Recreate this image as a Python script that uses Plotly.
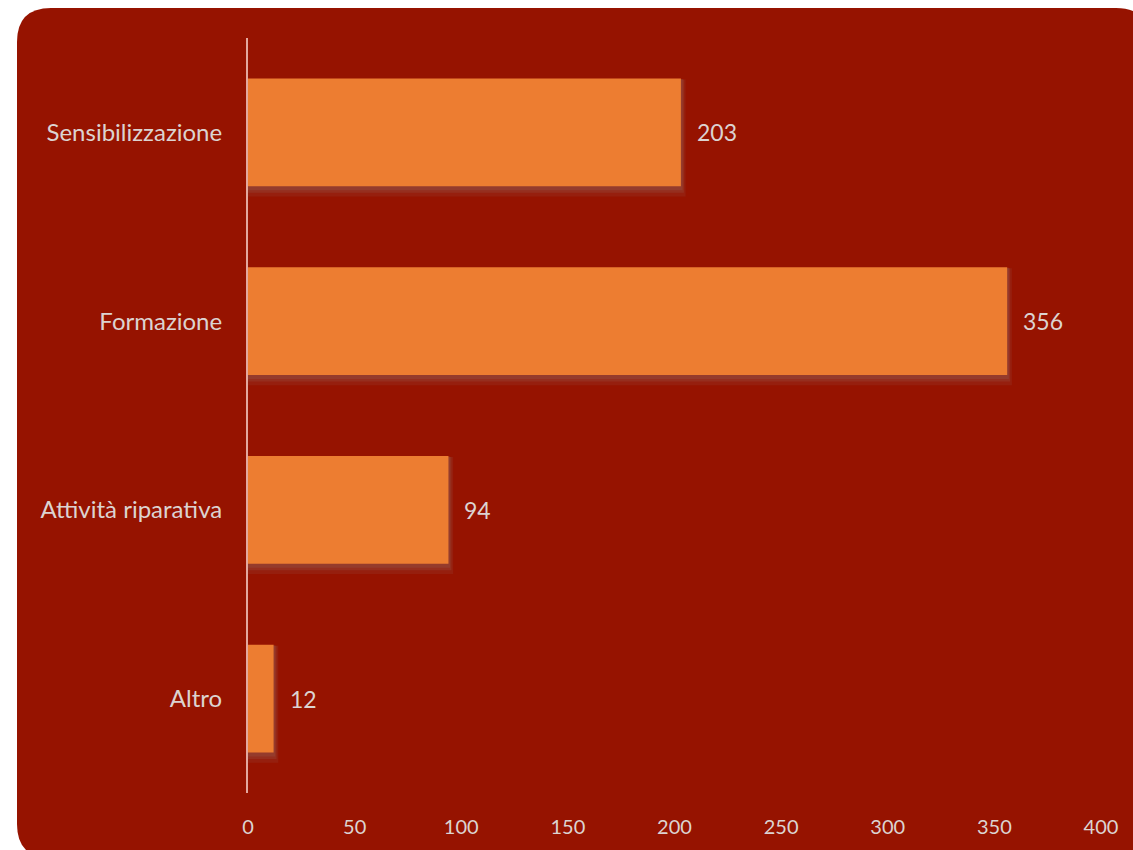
import plotly.graph_objects as go

categories = ["Sensibilizzazione", "Formazione", "Attività riparativa", "Altro"]
values = [203, 356, 94, 12]
x_ticks = [0, 50, 100, 150, 200, 250, 300, 350, 400]

W, H = 1133, 850
L, R, T, B = 248, 32, 38, 57
PW, PH = W - L - R, H - T - B

def px(x):
    return (x - L) / PW

def py(y):
    return (H - B - y) / PH

BG = "#961300"
BAR = "#ED7D31"
TXT = "#DCD3D1"
FONT = "Lato"

fig = go.Figure()

# soft shadow (layered)
for w, off, dx, a in [(0.62, -0.28, 2.2, 0.18), (0.60, -0.28, 1.4, 0.25), (0.59, -0.283, 0.8, 0.3)]:
    fig.add_trace(go.Bar(
        y=categories, x=[v + dx for v in values], orientation="h",
        marker=dict(color=f"rgba(150,90,80,{a})", line=dict(width=0)),
        width=w, offset=off, hoverinfo="skip", showlegend=False,
    ))
fig.add_trace(go.Bar(
    y=categories, x=values, orientation="h",
    marker=dict(color=BAR, line=dict(width=0)),
    width=0.572, showlegend=False,
))

for c, v in zip(categories, values):
    fig.add_annotation(x=v, y=c, text=str(v), showarrow=False,
                       xanchor="left", xshift=14,
                       font=dict(family=FONT, size=23, color=TXT))

# rounded background panel
x0, x1 = px(17), px(1150)
y0, y1 = py(8), py(858)
rx, ry = 34 / PW, 34 / PH
path = (f"M {x0+rx},{y0} L {x1-rx},{y0} Q {x1},{y0} {x1},{y0-ry} "
        f"L {x1},{y1+ry} Q {x1},{y1} {x1-rx},{y1} "
        f"L {x0+rx},{y1} Q {x0},{y1} {x0},{y1+ry} "
        f"L {x0},{y0-ry} Q {x0},{y0} {x0+rx},{y0} Z")
fig.add_shape(type="path", path=path, xref="paper", yref="paper",
              fillcolor=BG, line=dict(width=0), layer="below")

fig.update_layout(
    width=W, height=H,
    margin=dict(l=L, r=R, t=T, b=B, autoexpand=False),
    paper_bgcolor="white", plot_bgcolor="rgba(0,0,0,0)",
    barmode="overlay",
    font=dict(family=FONT, size=20, color=TXT),
    xaxis=dict(range=[0, 400], tickvals=x_ticks, showgrid=False, zeroline=False,
               showline=False, ticks="", ticklabelstandoff=20,
               tickfont=dict(family=FONT, size=20, color=TXT)),
    yaxis=dict(categoryorder="array", categoryarray=categories, autorange="reversed",
               showgrid=False, zeroline=False, showline=True,
               linecolor="#E3A89E", linewidth=2, ticks="", ticklabelstandoff=19,
               tickfont=dict(family=FONT, size=24, color=TXT)),
)

fig.write_html("out.html")
